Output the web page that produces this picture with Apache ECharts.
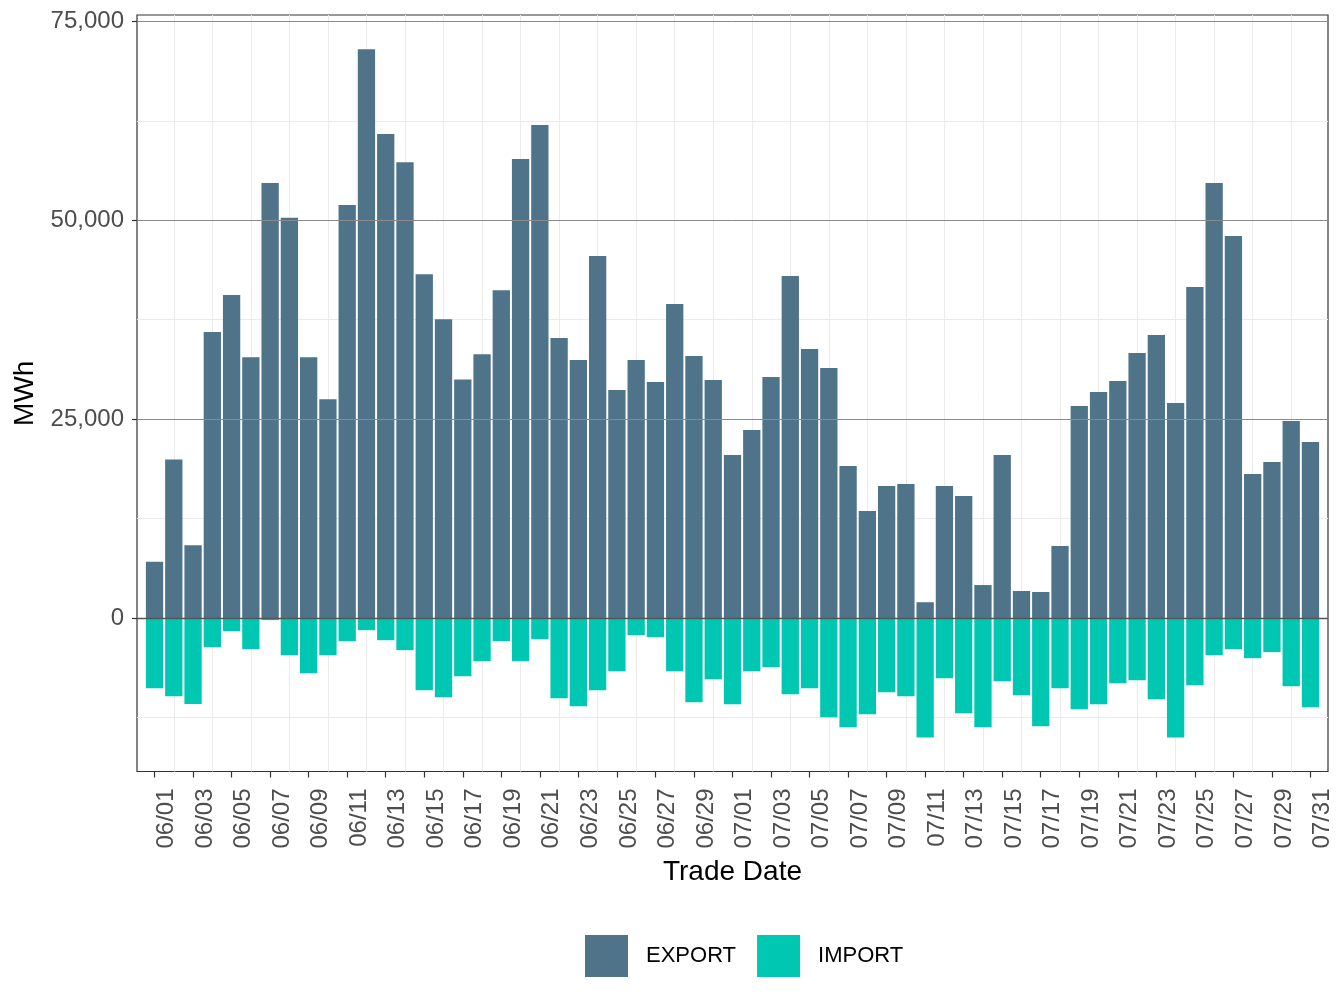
<!DOCTYPE html>
<html>
<head>
<meta charset="utf-8">
<script src="https://cdn.jsdelivr.net/npm/echarts@6/dist/echarts.min.js"></script>
<style>
html,body{margin:0;padding:0;background:#fff;}
#chart{width:1344px;height:1008px;}
</style>
</head>
<body>
<div id="chart"></div>
<script>
const dates = ['06/01','06/02','06/03','06/04','06/05','06/06','06/07','06/08','06/09','06/10',
'06/11','06/12','06/13','06/14','06/15','06/16','06/17','06/18','06/19','06/20',
'06/21','06/22','06/23','06/24','06/25','06/26','06/27','06/28','06/29','06/30',
'07/01','07/02','07/03','07/04','07/05','07/06','07/07','07/08','07/09','07/10',
'07/11','07/12','07/13','07/14','07/15','07/16','07/17','07/18','07/19','07/20',
'07/21','07/22','07/23','07/24','07/25','07/26','07/27','07/28','07/29','07/30','07/31'];

const exportVals = [7100,19950,9150,35950,40600,32790,54670,50300,32790,27500,
51900,71500,60850,57300,43220,37570,30000,33170,41210,57680,
61980,35200,32440,45500,28670,32440,29680,39480,32940,29920,
20500,23640,30300,42990,33820,31430,19120,13460,16600,16850,
2000,16600,15350,4160,20500,3410,3290,9070,26650,28410,
29800,33320,35580,27030,41610,54680,48020,18110,19620,24770,22130];

const importVals = [-8800,-9800,-10800,-3650,-1630,-3900,-250,-4650,-6910,-4650,
-2890,-1510,-2770,-4020,-9050,-9930,-7290,-5400,-2890,-5400,
-2640,-10060,-11060,-9050,-6660,-2140,-2390,-6660,-10560,-7670,
-10810,-6660,-6160,-9550,-8800,-12440,-13700,-12070,-9300,-9800,
-15000,-7540,-11940,-13700,-7920,-9680,-13570,-8800,-11440,-10810,
-8170,-7790,-10180,-15000,-8420,-4650,-3900,-5030,-4270,-8550,-11190];

const seriesNames = ['EXPORT','IMPORT'];
const seriesColors = ['#4f7489','#00c7b2'];
const yMajorTicks = [0, 25000, 50000, 75000];
const yMinorTicks = [-12500, 12500, 37500, 62500];
const xLabelIdx = dates.map((d,i)=>i).filter(i=>i%2===0);
const xMinorIdx = dates.map((d,i)=>i).filter(i=>i%2===1);

const Y_MIN = -19270, Y_MAX = 75790;
const X_MIN = -0.91, X_MAX = dates.length - 1 + 0.91;

const fmt = v => String(Math.round(v)).replace(/\B(?=(\d{3})+(?!\d))/g, ',');

const chart = echarts.init(document.getElementById('chart'), null, {renderer:'canvas'});
const FONT = 'Liberation Sans';
chart.setOption({
  animation:false,
  backgroundColor:'#fff',
  textStyle:{fontFamily:FONT},
  grid:{left:137, right:16, top:15, bottom:236.5, show:true, borderColor:'#333', borderWidth:1.2, backgroundColor:'transparent'},
  legend:{
    data:seriesNames, left:580, top:930, orient:'horizontal',
    icon:'rect', itemWidth:43, itemHeight:42, itemGap:21,
    textStyle:{fontSize:22, color:'#000', fontFamily:FONT, padding:[0,0,0,13]}
  },
  xAxis:[{
    type:'value', min:X_MIN, max:X_MAX,
    name:'Trade Date', nameLocation:'middle', nameGap:87,
    nameTextStyle:{fontSize:28, color:'#000', fontFamily:FONT},
    axisLine:{show:false, onZero:false},
    axisTick:{show:true, length:6, customValues:xLabelIdx, lineStyle:{color:'#333', width:1.2}},
    axisLabel:{customValues:xLabelIdx, rotate:90, margin:17, fontSize:24, color:'#4d4d4d', verticalAlign:'top',
      formatter:v=>dates[Math.round(v)]},
    splitLine:{show:false}
  },{
    type:'value', min:X_MIN, max:X_MAX, position:'bottom',
    axisLine:{show:false, onZero:false}, axisLabel:{show:false},
    axisTick:{show:false, customValues:xMinorIdx},
    splitLine:{show:true, lineStyle:{color:'#ebebeb', width:1}}
  }],
  yAxis:[{
    type:'value', min:Y_MIN, max:Y_MAX,
    name:'MWh', nameLocation:'middle', nameGap:89,
    nameTextStyle:{fontSize:28, color:'#000', fontFamily:FONT},
    axisLine:{show:false, onZero:false},
    axisTick:{show:true, length:5, customValues:yMajorTicks, lineStyle:{color:'#333', width:1.2}},
    axisLabel:{customValues:yMajorTicks, margin:13, fontSize:24, color:'#4d4d4d', formatter:fmt},
    splitLine:{show:false}
  },{
    type:'value', min:Y_MIN, max:Y_MAX, position:'left',
    axisLine:{show:false, onZero:false}, axisLabel:{show:false},
    axisTick:{show:false, customValues:yMinorTicks.concat(yMajorTicks)},
    splitLine:{show:true, lineStyle:{color:'#ebebeb', width:1}}
  }],
  series:[{
    name:seriesNames[0], type:'bar', xAxisIndex:0, yAxisIndex:0,
    data:exportVals.map((v,i)=>[i,v]),
    barWidth:17.3, barGap:'-100%',
    itemStyle:{color:seriesColors[0]},
    markLine:{
      silent:true, symbol:'none', label:{show:false}, z:10,
      lineStyle:{type:'solid', color:'#8a8a8a', width:1},
      data:yMajorTicks.map(v=>v===0 ? {yAxis:v, lineStyle:{color:'#555', width:1.3, type:'solid'}} : {yAxis:v})
    }
  },{
    name:seriesNames[1], type:'bar', xAxisIndex:0, yAxisIndex:0,
    data:importVals.map((v,i)=>[i,v]),
    barWidth:17.3, barGap:'-100%',
    itemStyle:{color:seriesColors[1]}
  }]
});
</script>
</body>
</html>
